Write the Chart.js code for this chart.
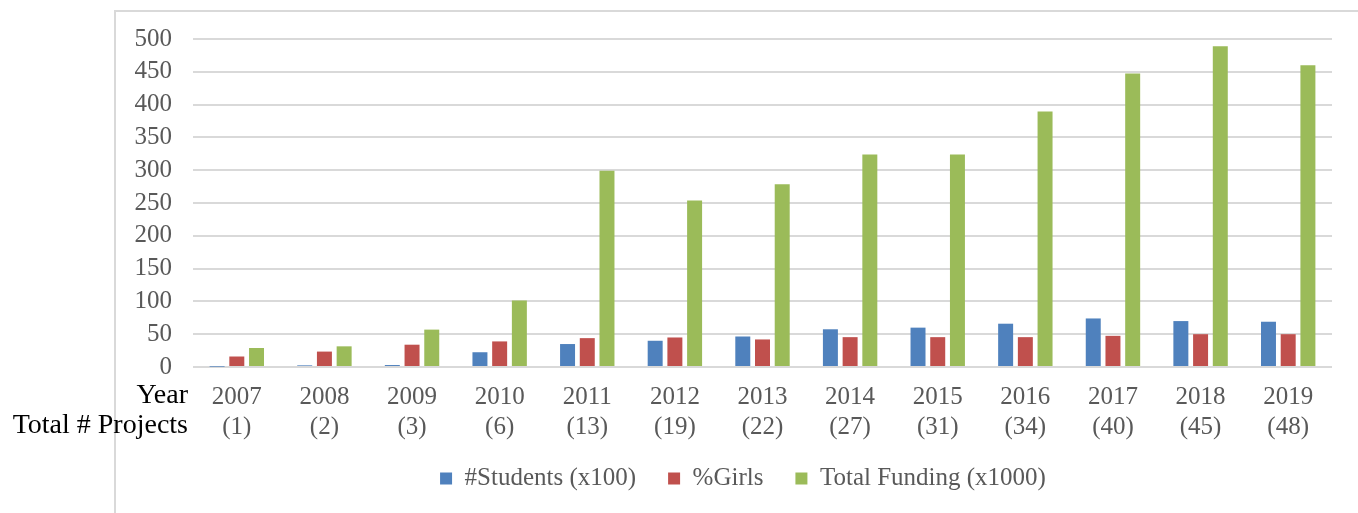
<!DOCTYPE html>
<html>
<head>
<meta charset="utf-8">
<script src="https://cdn.jsdelivr.net/npm/chart.js@4.4.1/dist/chart.umd.min.js"></script>
<style>
  html, body { margin: 0; padding: 0; background: #fff; overflow: hidden; }
  #frame {
    position: absolute; left: 114px; top: 10px; width: 1258px; height: 2000px;
    border: 2px solid #d9d9d9; box-sizing: border-box;
  }
  #wrap { position: absolute; left: 0; top: 0; width: 1358px; height: 513px; }
</style>
</head>
<body>
<div id="frame"></div>
<div id="wrap"><canvas id="chart" width="1358" height="513"></canvas></div>
<script>
const years = ['2007', '2008', '2009', '2010', '2011', '2012', '2013', '2014', '2015', '2016', '2017', '2018', '2019'];
const projects = [1, 2, 3, 6, 13, 19, 22, 27, 31, 34, 40, 45, 48];
const students = [0.5, 2.5, 3, 22.5, 35, 40, 46.5, 57.5, 60, 66, 74, 70, 69];
const girls = [16, 23.5, 34, 39, 44, 45, 42, 45.5, 45.5, 45.5, 47.5, 50, 50];
const funding = [29, 31.5, 57, 101.5, 299, 254, 278.5, 324, 324, 389.5, 447.5, 489, 460];

const FONT = '"Liberation Serif", "DejaVu Serif", serif';
const labels = years.map((y, i) => [y, `(${projects[i]})`]);

// "Year" / "Total # Projects" row captions left of the category labels
const rowCaptions = {
  id: 'rowCaptions',
  afterLayout(chart) {
    // legend is centred on the framed box, not on the canvas
    const lg = chart.legend;
    lg.left += 77;
    lg.right += 77;
    lg.top -= 8;
    lg.bottom -= 8;
  },
  afterDraw(chart) {
    const { ctx, chartArea, scales } = chart;
    const top = scales.x.top;
    ctx.save();
    ctx.font = `28px ${FONT}`;
    ctx.fillStyle = '#000';
    ctx.textAlign = 'right';
    ctx.textBaseline = 'middle';
    ctx.fillText('Year', chartArea.left - 5, top + 29);
    ctx.fillText('Total # Projects', chartArea.left - 5, top + 59);
    ctx.restore();
  }
};

new Chart(document.getElementById('chart'), {
  type: 'bar',
  data: {
    labels,
    datasets: [
      { label: '#Students (x100)', data: students, backgroundColor: '#4F81BD' },
      { label: '%Girls', data: girls, backgroundColor: '#C0504D' },
      { label: 'Total Funding (x1000)', data: funding, backgroundColor: '#9BBB59' }
    ]
  },
  options: {
    responsive: false,
    animation: false,
    categoryPercentage: 0.675,
    barPercentage: 0.76,
    layout: { padding: { left: 0, right: 26, top: 39, bottom: 4 } },
    scales: {
      x: {
        grid: { display: false, drawTicks: false },
        border: { display: false },
        ticks: {
          color: '#595959',
          padding: 15,
          maxRotation: 0,
          autoSkip: false,
          font: { family: FONT, size: 25, lineHeight: 1.2 }
        },
        afterFit(s) { s.height = 75; }
      },
      y: {
        min: 0,
        max: 500,
        ticks: {
          stepSize: 50,
          autoSkip: false,
          color: '#595959',
          padding: 21,
          font: { family: FONT, size: 25 }
        },
        grid: { color: '#d9d9d9', lineWidth: 2, drawTicks: false },
        border: { display: false },
        afterFit(s) { s.width = 193; }
      }
    },
    plugins: {
      title: { display: false },
      tooltip: { enabled: false },
      legend: {
        position: 'bottom',
        labels: {
          color: '#595959',
          boxWidth: 12,
          boxHeight: 12,
          padding: 32,
          font: { family: FONT, size: 25 }
        }
      }
    }
  },
  plugins: [rowCaptions]
});
</script>
</body>
</html>
